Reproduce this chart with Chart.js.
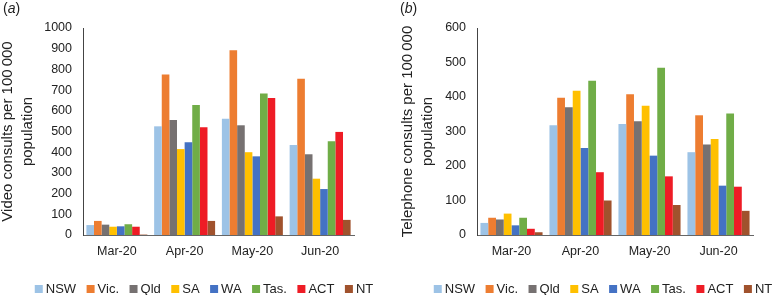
<!DOCTYPE html>
<html><head><meta charset="utf-8">
<script src="https://cdn.jsdelivr.net/npm/chart.js@4"></script>
<style>
body{margin:0;background:#fff;width:776px;height:295px;position:relative;overflow:hidden;font-family:"Liberation Sans",Arial,sans-serif;}
.p{position:absolute;top:0;width:388px;height:295px;}
.lab{position:absolute;top:0px;font-size:14px;color:#222;}
</style></head><body>
<div class="p" style="left:0"><canvas id="c1" width="388" height="295"></canvas></div>
<div class="p" style="left:388px"><canvas id="c2" width="388" height="295"></canvas></div>
<div class="lab" style="left:3px">(<i>a</i>)</div>
<div class="lab" style="left:400px">(<i>b</i>)</div>
<script>
const categories = ['Mar-20','Apr-20','May-20','Jun-20'];
const states = ['NSW','Vic.','Qld','SA','WA','Tas.','ACT','NT'];
const colors = ['#9DC3E6','#ED7D31','#767171','#FFC000','#4472C4','#70AD47','#EE1C25','#A0522D'];
// Video consults per 100 000 population (panel a)
const videoNSW = [48, 525, 562, 435];
const videoVic = [68, 775, 892, 755];
const videoQld = [50, 555, 530, 390];
const videoSA  = [40, 415, 400, 272];
const videoWA  = [42, 448, 380, 222];
const videoTas = [52, 628, 683, 453];
const videoACT = [40, 520, 662, 498];
const videoNT  = [2, 68, 90, 73];
// Telephone consults per 100 000 population (panel b)
const phoneNSW = [35, 318, 322, 240];
const phoneVic = [50, 398, 408, 347];
const phoneQld = [45, 370, 330, 262];
const phoneSA  = [62, 418, 375, 278];
const phoneWA  = [28, 252, 230, 143];
const phoneTas = [50, 447, 485, 352];
const phoneACT = [18, 182, 170, 140];
const phoneNT  = [8, 100, 87, 70];
const videoTicks = [0,100,200,300,400,500,600,700,800,900,1000];
const phoneTicks = [0,100,200,300,400,500,600];

const videoSeries = [videoNSW,videoVic,videoQld,videoSA,videoWA,videoTas,videoACT,videoNT];
const phoneSeries = [phoneNSW,phoneVic,phoneQld,phoneSA,phoneWA,phoneTas,phoneACT,phoneNT];
const FONT = '"Liberation Sans", Arial, sans-serif';

function legendPlugin(centerX, centerY){
  return {
    id:'customLegend',
    afterDraw(chart){
      const ctx = chart.ctx;
      ctx.save();
      ctx.font = '13px ' + FONT;
      const box = 8, gapText = 3, gapItem = 10.5;
      const items = chart.data.datasets.map(ds => ({label:ds.label, color:ds.backgroundColor, w: box + gapText + ctx.measureText(ds.label).width}));
      const total = items.reduce((a,b)=>a+b.w,0) + gapItem*(items.length-1);
      let x = centerX - total/2;
      ctx.textBaseline = 'middle';
      ctx.textAlign = 'left';
      items.forEach(it => {
        ctx.fillStyle = it.color;
        ctx.fillRect(x, centerY - box/2, box, box);
        ctx.fillStyle = '#222';
        ctx.fillText(it.label, x + box + gapText, centerY + 0.5);
        x += it.w + gapItem;
      });
      ctx.restore();
    }
  };
}

function make(id, series, ticks, title, yWidth, padRight, titleTop, legendCenter){
  const max = ticks[ticks.length-1];
  return new Chart(document.getElementById(id), {
    type:'bar',
    data:{labels:categories, datasets: series.map((d,i)=>({label:states[i], data:d, backgroundColor:colors[i], borderWidth:0}))},
    plugins:[legendPlugin(legendCenter, 289)],
    options:{
      responsive:false, animation:false,
      layout:{padding:{top:28,right:padRight,bottom:30,left:0}},
      datasets:{bar:{barPercentage:1.0, categoryPercentage:0.9}},
      plugins:{ tooltip:{enabled:false}, legend:{display:false} },
      scales:{
        x:{grid:{display:false, drawTicks:false}, border:{color:'#666', width:1},
           ticks:{color:'#222', padding:9, autoSkip:false, maxRotation:0, font:{family:FONT, size:12.5}},
           afterFit:(s)=>{s.height=30;}},
        y:{min:0, max:max, grid:{display:false, drawTicks:false}, border:{color:'#444', width:1},
           afterBuildTicks:(s)=>{s.ticks=ticks.map(v=>({value:v}));},
           ticks:{color:'#222', padding:11, autoSkip:false, font:{family:FONT, size:12.5}, callback:(v)=>String(v)},
           title:{display:true, text:title, color:'#222', padding:{top:titleTop,bottom:0}, font:{family:FONT, size:15, lineHeight:1.33}},
           afterFit:(s)=>{s.width=yWidth;}}
      }
    }
  });
}
make('c1', videoSeries, videoTicks, ['Video consults per 100\u2009000','population'], 83, 34, -2.5, 204);
make('c2', phoneSeries, phoneTicks, ['Telephone consults per 100\u2009000','population'], 89, 23, 10, 215);
</script>
</body></html>
